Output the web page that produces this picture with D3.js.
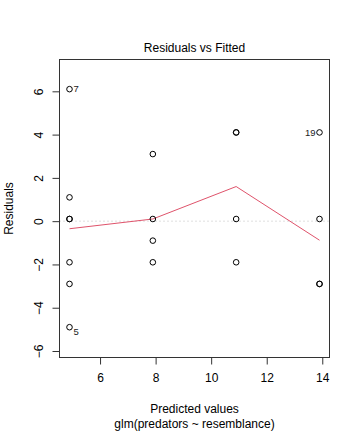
<!DOCTYPE html>
<html><head><meta charset="utf-8">
<script src="https://cdn.jsdelivr.net/npm/d3@7"></script>
<style>body{margin:0;background:#fff}svg{display:block}text{font-family:"Liberation Sans",Arial,sans-serif}</style>
</head><body>
<script>
const fitted = [4.9,4.9,4.9,4.9,4.9,4.9,4.9, 7.9,7.9,7.9,7.9, 10.9,10.9,10.9,10.9, 13.9,13.9,13.9,13.9];
const residuals = [6.1,1.1,0.1,0.1,-1.9,-2.9,-4.9, 3.1,0.1,-0.9,-1.9, 4.1,4.1,0.1,-1.9, 4.1,0.1,-2.9,-2.9];
const pointIds = ["7","","","","","","5", "","","","", "","","","", "19","","",""];
const smoothX = [4.9,7.9,10.9,13.9];
const smoothY = [-0.35,0.1,1.6,-0.88];
const xTicks = [6,8,10,12,14];
const yTicks = [-6,-4,-2,0,2,4,6];

const W=360,H=432;
const m={l:59.5,r:329.5,t:59.5,b:357.5};
const svg=d3.select("body").append("svg").attr("width",W).attr("height",H);
const x=d3.scaleLinear().domain([4.54,14.26]).range([m.l,m.r]);
const y=d3.scaleLinear().domain([-6.3,7.47]).range([m.b,m.t]);

// zero reference line
svg.append("line").attr("x1",m.l).attr("x2",m.r).attr("y1",y(0)).attr("y2",y(0))
  .attr("stroke","#bebebe").attr("stroke-dasharray","1,3");

// smooth line
svg.append("path").datum(smoothX.map((v,i)=>[v,smoothY[i]]))
  .attr("d",d3.line().x(d=>x(d[0])).y(d=>y(d[1])))
  .attr("fill","none").attr("stroke","#DF536B").attr("stroke-width",1);

// points
svg.append("g").selectAll("circle").data(fitted.map((v,i)=>[v,residuals[i]])).join("circle")
  .attr("cx",d=>x(d[0])).attr("cy",d=>y(d[1])).attr("r",2.8)
  .attr("fill","none").attr("stroke","#000").attr("stroke-width",1);

// point labels
fitted.forEach((v,i)=>{
  const id=pointIds[i]; if(!id) return;
  const left = v>12;
  svg.append("text").attr("x",x(v)+(left?-4:4)).attr("y",y(residuals[i])+(residuals[i]<-4?4:0))
    .attr("dy","0.35em").attr("text-anchor",left?"end":"start")
    .attr("font-size",9.5).attr("fill","#222").text(id);
});

// box
svg.append("rect").attr("x",m.l).attr("y",m.t).attr("width",m.r-m.l).attr("height",m.b-m.t)
  .attr("fill","none").attr("stroke","#333").attr("stroke-width",1);

// axes
const xa=svg.append("g").attr("transform",`translate(0,${m.b})`)
  .call(d3.axisBottom(x).tickValues(xTicks).tickSize(7).tickPadding(9).tickFormat(d3.format("d")));
xa.select(".domain").attr("d",`M${x(6)},0H${x(14)}`).attr("stroke","#333");
xa.selectAll(".tick line").attr("stroke","#333");
xa.selectAll("text").attr("font-size",12).attr("fill","#000").attr("font-family","Liberation Sans,Arial,sans-serif");

const ya=svg.append("g").attr("transform",`translate(${m.l},0)`)
  .call(d3.axisLeft(y).tickValues(yTicks).tickSize(7).tickFormat(d3.format("d")));
ya.select(".domain").attr("d",`M0,${y(-6)}V${y(6)}`).attr("stroke","#333");
ya.selectAll(".tick line").attr("stroke","#333");
ya.selectAll(".tick text").attr("font-size",12).attr("fill","#000").attr("font-family","Liberation Sans,Arial,sans-serif")
  .attr("x",0).attr("dy",0).attr("text-anchor","middle")
  .attr("transform","translate(-17,0) rotate(-90)");

// titles
svg.append("text").attr("x",(m.l+m.r)/2).attr("y",52).attr("text-anchor","middle").attr("font-size",12).text("Residuals vs Fitted");
svg.append("text").attr("x",(m.l+m.r)/2).attr("y",413).attr("text-anchor","middle").attr("font-size",12).text("Predicted values");
svg.append("text").attr("x",(m.l+m.r)/2).attr("y",428).attr("text-anchor","middle").attr("font-size",12).text("glm(predators ~ resemblance)");
svg.append("text").attr("transform",`translate(13,${(m.t+m.b)/2}) rotate(-90)`).attr("text-anchor","middle").attr("font-size",12).text("Residuals");
</script>
</body></html>
